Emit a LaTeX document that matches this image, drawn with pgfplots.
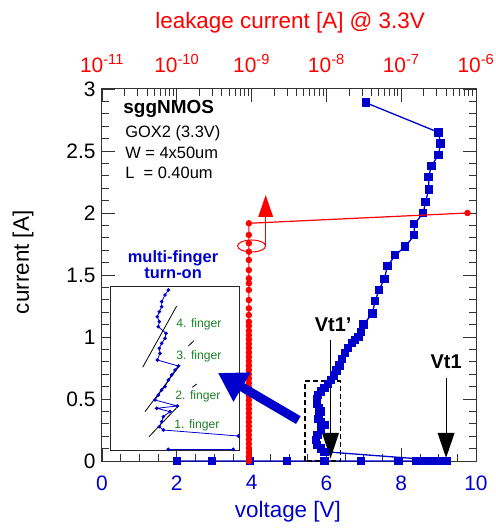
\documentclass[border=0pt]{standalone}
\usepackage{pgfplots}
\pgfplotsset{compat=1.18}
\usepackage{fontspec}
\setmainfont{Liberation Sans}
\usetikzlibrary{arrows.meta}
\definecolor{tlpblue}{RGB}{0,0,205}
\definecolor{fgreen}{RGB}{30,130,40}
\newcommand\fT{\fontsize{21}{24}\selectfont}
\newcommand\fL{\fontsize{22.5}{26}\selectfont}

\begin{document}
\begin{tikzpicture}
% main axis: current vs voltage (TLP)
\begin{axis}[
    width=374bp, height=372bp, scale only axis,
    xmin=0, xmax=10, ymin=0, ymax=3,
    clip=false,
    xtick={0,2,...,10}, minor x tick num=3,
    xtick pos=bottom,
    ytick={0,0.5,...,3}, minor y tick num=4,
    yticklabels={0,0.5,1,1.5,2,2.5,3},
    major tick length=13bp, minor tick length=7bp,
    tick style={black!80, line width=0.8bp},
    axis line style={black!80, line width=1bp},
    /pgf/number format/assume math mode=true,
    xticklabel style={font=\fT, text=tlpblue, yshift=-11bp},
    yticklabel style={font=\fT, xshift=-3bp},
    xlabel={voltage [V]}, ylabel={current [A]},
    xlabel style={font=\fL, text=tlpblue, at={(axis description cs:0.497,-0.137)}, anchor=center},
    ylabel style={font=\fL, at={(axis description cs:-0.211,0.534)}, anchor=center},
]
\addplot[tlpblue, line width=1.3bp, mark=square*, mark size=3.5bp] coordinates {
    (2.0,0) (2.95,0) (3.95,0) (4.95,0) (5.95,0) (6.93,0) (7.93,0)
    (8.40,0) (8.55,0) (8.68,0) (8.80,0) (8.95,0) (9.10,0) (9.22,0)
    (5.95,0.075) (5.85,0.10) (5.75,0.13) (5.72,0.17) (5.76,0.21)
    (5.85,0.25) (5.95,0.29) (5.85,0.31) (5.78,0.34) (5.80,0.37)
    (5.86,0.40) (5.80,0.43) (5.74,0.46) (5.74,0.50) (5.78,0.53)
    (5.85,0.56) (5.95,0.59) (6.05,0.62) (6.12,0.655) (6.20,0.69)
    (6.27,0.73) (6.35,0.77) (6.42,0.82) (6.50,0.87) (6.58,0.91)
    (6.68,0.95) (6.77,0.975) (6.86,1.00) (6.92,1.04) (6.99,1.10)
    (7.23,1.19) (7.30,1.29) (7.41,1.38) (7.55,1.47) (7.63,1.57)
    (7.84,1.66) (8.11,1.73) (8.35,1.82) (8.35,1.91) (8.59,2.00)
    (8.65,2.09) (8.74,2.19) (8.73,2.29) (8.81,2.38) (9.00,2.47)
    (9.05,2.56) (9.00,2.65) (7.05,2.89)
};
% device text
\node[anchor=west, font=\fontsize{19}{22}\selectfont\bfseries] at (axis cs:0.48,2.84) {sggNMOS};
\node[anchor=west, font=\fontsize{16.5}{19}\selectfont] at (axis cs:0.53,2.645) {GOX2 (3.3V)};
\node[anchor=west, font=\fontsize{16.5}{19}\selectfont] at (axis cs:0.53,2.484) {W = 4x50um};
\node[anchor=west, font=\fontsize{16.5}{19}\selectfont] at (axis cs:0.53,2.32) {L\ \ = 0.40um};
\node[font=\fontsize{16.5}{19}\selectfont\bfseries, text=tlpblue, align=center] at (axis cs:1.9,1.58) {multi-finger\\[-3bp]turn-on};
% trigger arrows
\draw[black, line width=0.9bp] (axis cs:6.11,0.976) -- (axis cs:6.11,0.22);
\fill[black] ([xshift=-8.5bp]axis cs:6.11,0.226) -- ([xshift=8.5bp]axis cs:6.11,0.226) -- (axis cs:6.11,0.02) -- cycle;
\node[font=\fontsize{20}{23}\selectfont\bfseries] at (axis cs:6.18,1.097) {Vt1'};
\draw[black, line width=0.9bp] (axis cs:9.2,0.67) -- (axis cs:9.2,0.22);
\fill[black] ([xshift=-8.5bp]axis cs:9.2,0.226) -- ([xshift=8.5bp]axis cs:9.2,0.226) -- (axis cs:9.2,0.025) -- cycle;
\node[font=\fontsize{20}{23}\selectfont\bfseries] at (axis cs:9.2,0.80) {Vt1};
\draw[black, line width=1.5bp, dash pattern=on 5bp off 3bp] (axis cs:5.43,0.0) rectangle (axis cs:6.38,0.645);
% red marker for leakage series
\draw[red, line width=1bp] (axis cs:4.0,1.734) ellipse [x radius=14bp, y radius=6bp];
\draw[red, line width=1bp] (axis cs:4.377,1.734) -- (axis cs:4.377,1.97);
\fill[red] ([xshift=-7.5bp]axis cs:4.377,1.968) -- ([xshift=7.5bp]axis cs:4.377,1.968) -- (axis cs:4.377,2.145) -- cycle;
\coordinate (atail) at (axis cs:5.25,0.33);
\coordinate (ahead) at (axis cs:3.10,0.71);
\end{axis}

% top axis: leakage current
\begin{axis}[
    width=374bp, height=372bp, scale only axis,
    xmode=log, xmin=1e-11, xmax=1e-6, ymin=0, ymax=3,
    clip=false,
    axis x line*=top, axis y line=none,
    xtick={1e-11,1e-10,1e-9,1e-8,1e-7,1e-6},
    xticklabels={10\textsuperscript{-11},10\textsuperscript{-10},10\textsuperscript{-9},10\textsuperscript{-8},10\textsuperscript{-7},10\textsuperscript{-6}},
    major tick length=13bp, minor tick length=7bp,
    tick style={black!80, line width=0.8bp},
    axis line style={black!80, line width=1bp},
    xticklabel style={font=\fT, text=red, yshift=13bp},
    xlabel={leakage current [A] @ 3.3V},
    xlabel style={font=\fL, text=red, at={(axis description cs:0.503,1.177)}, anchor=center},
]
\addplot[red, line width=1.2bp, mark=*, mark size=2.6bp] coordinates {
    (9.2e-10,0) (9.2e-10,0.035) (9.2e-10,0.07) (9.2e-10,0.105) (9.2e-10,0.14)
    (9.2e-10,0.175) (9.2e-10,0.21) (9.2e-10,0.245) (9.2e-10,0.28) (9.2e-10,0.315)
    (9.2e-10,0.35) (9.2e-10,0.385) (9.2e-10,0.42) (9.2e-10,0.455) (9.2e-10,0.49)
    (9.2e-10,0.525) (9.2e-10,0.56) (9.2e-10,0.595) (9.2e-10,0.63) (9.2e-10,0.665)
    (9.2e-10,0.70) (9.2e-10,0.735) (9.2e-10,0.77) (9.2e-10,0.805) (9.2e-10,0.84)
    (9.2e-10,0.875) (9.2e-10,0.91) (9.2e-10,0.945) (9.2e-10,0.98) (9.2e-10,1.015)
    (9.2e-10,1.05) (9.2e-10,1.091) (9.2e-10,1.123) (9.2e-10,1.177) (9.2e-10,1.231)
    (9.2e-10,1.298) (9.2e-10,1.379) (9.2e-10,1.433) (9.2e-10,1.473) (9.2e-10,1.54)
    (9.2e-10,1.621) (9.2e-10,1.688) (9.2e-10,1.756) (9.2e-10,1.823) (9.2e-10,1.917)
    (7.7e-7,2.0)
};
\end{axis}

% inset: multi-finger turn-on (magnified)
\begin{axis}[
    at={(8bp,11bp)}, anchor=south west,
    width=129bp, height=163bp, scale only axis,
    xmin=0, xmax=129, ymin=0, ymax=163,
    ticks=none, clip=false,
    axis background/.style={fill=white},
    axis line style={black!85, line width=1bp},
]
\addplot[tlpblue, line width=0.8bp, mark=*, mark size=1.4bp] coordinates {
    (128.3,14) (53.3,20) (49.3,23.3) (51.7,28.3) (53.3,33.3) (60,38.3)
    (46.7,41.7) (67.3,44) (45,50) (48.3,55) (51.7,60) (55,63.3) (58.3,70)
    (61.7,75) (65,80) (68.3,84) (47.3,90) (50,96.7) (49.3,101.7)
    (51.7,106.7) (55,111.7) (56,116.7) (48.3,123.3) (49.3,128.3)
    (47.3,133.3) (49.3,138.3) (51.7,143.3) (51.7,148.3) (55,155) (58.3,160)
};
\addplot[tlpblue, line width=0.8bp, mark=*, mark size=1.4bp] coordinates {(58.3,0.6) (123.3,0.6)};
\addplot[black, line width=0.8bp] coordinates {(66.7,144) (32.7,82.7)};
\addplot[black, line width=0.8bp] coordinates {(84,109.3) (78.3,104)};
\addplot[black, line width=0.8bp] coordinates {(70,85) (35,38.3)};
\addplot[black, line width=0.8bp] coordinates {(86.7,66) (82.3,62.7)};
\addplot[black, line width=0.8bp] coordinates {(68.3,44) (39,13.3)};
\node[font=\fontsize{12.2}{14}\selectfont, text=fgreen] at (axis cs:89,125.7) {4. finger};
\node[font=\fontsize{12.2}{14}\selectfont, text=fgreen] at (axis cs:89,94) {3. finger};
\node[font=\fontsize{12.2}{14}\selectfont, text=fgreen] at (axis cs:88,54) {2. finger};
\node[font=\fontsize{12.2}{14}\selectfont, text=fgreen] at (axis cs:87,25) {1. finger};
\end{axis}

% pointer from the dashed box to the inset
\draw[tlpblue, line width=9bp, -{Triangle[length=28bp,width=32bp]}] (atail) -- (ahead);

\pgfresetboundingbox
\path (-102bp,-67bp) rectangle (394bp,461bp);
\end{tikzpicture}
\end{document}
